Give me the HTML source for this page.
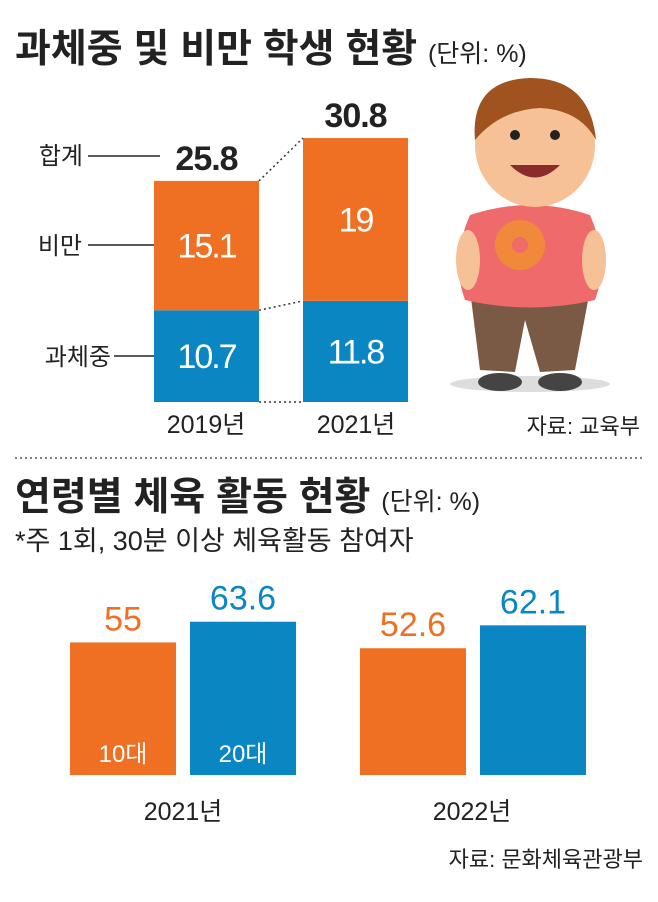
<!DOCTYPE html>
<html><head><meta charset="utf-8"><style>
body{margin:0;background:#fff;}
svg text{font-family:"Liberation Sans","Noto Sans CJK KR",sans-serif;}
</style></head><body>
<svg width="658" height="897" viewBox="0 0 658 897">
<text x="15" y="62" font-size="39" font-weight="bold" fill="#222">과체중 및 비만 학생 현황 <tspan font-size="25" font-weight="normal">(단위: %)</tspan></text>
<g id="topG"></g>
<text x="206" y="433" font-size="25" fill="#222" text-anchor="middle">2019년</text>
<text x="356" y="433" font-size="25" fill="#222" text-anchor="middle">2021년</text>
<text x="83" y="164" font-size="24" fill="#222" text-anchor="end">합계</text>
<line x1="88" y1="156" x2="160" y2="156" stroke="#222" stroke-width="1.5"/>
<text x="82" y="254" font-size="24" fill="#222" text-anchor="end">비만</text>
<line x1="88" y1="245" x2="154" y2="245" stroke="#222" stroke-width="1.5"/>
<text x="111" y="365" font-size="24" fill="#222" text-anchor="end">과체중</text>
<line x1="114" y1="356" x2="154" y2="356" stroke="#222" stroke-width="1.5"/>
<g>
<ellipse cx="530" cy="384" rx="80" ry="8" fill="#ddd"/>
<path d="M470 290 L480 370 L515 372 L525 320 L540 372 L575 370 L590 290 Z" fill="#7b5a45"/>
<ellipse cx="500" cy="382" rx="22" ry="9" fill="#444"/>
<ellipse cx="560" cy="382" rx="22" ry="9" fill="#444"/>
<path d="M470 215 Q530 195 590 215 Q610 260 595 300 Q530 315 465 300 Q450 260 470 215 Z" fill="#ef6a6a"/>
<ellipse cx="468" cy="260" rx="12" ry="30" fill="#f6c196"/>
<ellipse cx="594" cy="260" rx="12" ry="30" fill="#f6c196"/>
<circle cx="520" cy="245" r="25" fill="#f08a3a"/><circle cx="520" cy="245" r="8" fill="#ef6a6a"/>
<ellipse cx="535" cy="145" rx="60" ry="62" fill="#f6c196"/>
<path d="M475 140 Q470 80 530 78 Q590 78 596 140 Q580 110 540 108 Q500 110 475 140 Z" fill="#a0521f"/>
<circle cx="515" cy="135" r="5" fill="#222"/><circle cx="555" cy="135" r="5" fill="#222"/>
<path d="M510 165 Q535 190 560 165 Z" fill="#8b2b2b"/>
</g>
<text x="640" y="434" font-size="22" fill="#222" text-anchor="end">자료: 교육부</text>
<line x1="15" y1="458" x2="643" y2="458" stroke="#555" stroke-width="1.5" stroke-dasharray="2,3"/>
<text x="15" y="510" font-size="39" font-weight="bold" fill="#222">연령별 체육 활동 현황 <tspan font-size="25" font-weight="normal">(단위: %)</tspan></text>
<text x="15" y="550" font-size="27" fill="#222">*주 1회, 30분 이상 체육활동 참여자</text>
<g id="bottomG"></g>
<text x="183" y="820" font-size="25" fill="#222" text-anchor="middle">2021년</text>
<text x="472" y="820" font-size="25" fill="#222" text-anchor="middle">2022년</text>
<text x="643" y="867" font-size="22" fill="#222" text-anchor="end">자료: 문화체육관광부</text>
</svg>
<script>
const NS='http://www.w3.org/2000/svg';
const topYears=['2019년','2021년'];
const overweight=[10.7,11.8];
const obese=[15.1,19];
const totals=['25.8','30.8'];
const obeseLabels=['15.1','19'];
const overLabels=['10.7','11.8'];
const bottomYears=['2021년','2022년'];
const teens=[55,52.6];
const twenties=[63.6,62.1];
const teenLabels=['55','52.6'];
const twentyLabels=['63.6','62.1'];
(function(){
const OR='#f07023',BL='#0a87c3';
function mk(parent,tag,attrs,txt){const e=document.createElementNS(NS,tag);for(const k in attrs)e.setAttribute(k,attrs[k]);if(txt!=null)e.textContent=txt;parent.appendChild(e);return e;}
const topG=document.getElementById('topG');
const yT=v=>402-v*8.57;
const xT=i=>154+i*149;
const bw=105;
const tops=[],mids=[];
for(let i=0;i<2;i++){
  const x=xT(i);
  const b=mk(topG,'rect',{x:x,y:yT(overweight[i]),width:bw,height:402-yT(overweight[i]),fill:BL});
  
  
  const t=yT(overweight[i]+obese[i]);
  const o=mk(topG,'rect',{x:x,y:t,width:bw,height:yT(overweight[i])-t,fill:OR});
  
  
  tops.push(t);mids.push(yT(overweight[i]));
  const l1=mk(topG,'text',{x:x+bw/2,y:(yT(overweight[i])+402)/2+12,'font-size':34,fill:'#fff','text-anchor':'middle','letter-spacing':'-2'},overLabels[i]);
  
  
  const l2=mk(topG,'text',{x:x+bw/2,y:(t+yT(overweight[i]))/2+12,'font-size':34,fill:'#fff','text-anchor':'middle','letter-spacing':'-2'},obeseLabels[i]);
  
  
  const l3=mk(topG,'text',{x:x+bw/2,y:t-11,'font-size':34,'font-weight':'bold',fill:'#222','text-anchor':'middle','letter-spacing':'-1'},totals[i]);
  
  
}
[[tops[0],tops[1]],[mids[0],mids[1]],[402,402]].forEach(p=>{
  const d=mk(topG,'line',{x1:xT(0)+bw,y1:p[0],x2:xT(1),y2:p[1],stroke:'#333','stroke-width':1.5,'stroke-dasharray':'2,3'});
  
  
});
const bot=document.getElementById('bottomG');
const yB=v=>775-v*2.41;
const gx=[70,360];
for(let i=0;i<2;i++){
  [[teens,teenLabels,OR,0,'10대'],[twenties,twentyLabels,BL,120,'20대']].forEach(s=>{
    const x=gx[i]+s[3],v=s[0][i];
    const r=mk(bot,'rect',{x:x,y:yB(v),width:106,height:775-yB(v),fill:s[2]});
    
    
    const t=mk(bot,'text',{x:x+53,y:yB(v)-12,'font-size':34,fill:s[2],'text-anchor':'middle'},s[1][i]);
    
    
    if(i===0){
      const a=mk(bot,'text',{x:x+53,y:762,'font-size':24,fill:'#fff','text-anchor':'middle'},s[4]);
      
      
    }
  });
}
})();
</script>
</body></html>
